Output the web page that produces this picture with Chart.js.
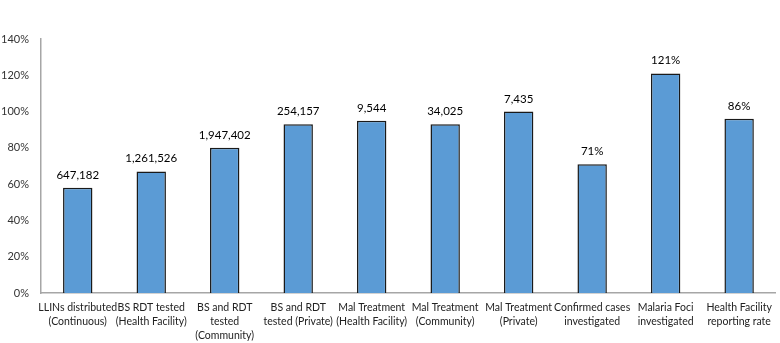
<!DOCTYPE html>
<html>
<head>
<meta charset="utf-8">
<script src="https://cdn.jsdelivr.net/npm/chart.js@4"></script>
<style>
html,body{margin:0;padding:0;background:#fff;}
#wrap{width:780px;height:343px;}
</style>
</head>
<body>
<div id="wrap"><canvas id="c" width="780" height="343"></canvas></div>
<script>
const categories = [
  ["LLINs distributed","(Continuous)"],
  ["BS RDT tested","(Health Facility)"],
  ["BS and RDT","tested","(Community)"],
  ["BS and RDT","tested (Private)"],
  ["Mal Treatment","(Health Facility)"],
  ["Mal Treatment","(Community)"],
  ["Mal Treatment","(Private)"],
  ["Confirmed cases","investigated"],
  ["Malaria Foci","investigated"],
  ["Health Facility","reporting rate"]
];
const percentValues = [58, 67, 80, 93, 95, 93, 100, 71, 121, 96];
const dataLabels = ["647,182","1,261,526","1,947,402","254,157","9,544","34,025","7,435","71%","121%","86%"];
const yTicks = [0, 20, 40, 60, 80, 100, 120, 140];

const FONT = "Lato, 'Open Sans', sans-serif";

const labelPlugin = {
  id: 'barLabels',
  afterDatasetsDraw(chart) {
    const ctx = chart.ctx;
    const meta = chart.getDatasetMeta(0);
    ctx.save();
    ctx.font = "11.5px " + FONT;
    ctx.fillStyle = "#000";
    ctx.textAlign = "center";
    ctx.textBaseline = "bottom";
    meta.data.forEach((bar, i) => {
      ctx.fillText(dataLabels[i], bar.x, bar.y - 7);
    });
    ctx.restore();
  }
};

new Chart(document.getElementById('c'), {
  type: 'bar',
  data: {
    labels: categories,
    datasets: [{
      data: percentValues,
      backgroundColor: '#5B9BD5',
      borderColor: '#1a1a1a',
      borderWidth: 1.5,
      borderSkipped: 'bottom',
      barPercentage: 0.4,
      categoryPercentage: 1.0
    }]
  },
  options: {
    responsive: false,
    animation: false,
    devicePixelRatio: 1,
    layout: { padding: { top: 39, right: 2, left: 0, bottom: 0 } },
    plugins: { legend: { display: false }, tooltip: { enabled: false } },
    scales: {
      x: {
        grid: { display: false, drawTicks: false },
        border: { display: true, color: '#a6a6a6', width: 1.5 },
        ticks: {
          color: '#222',
          font: { family: FONT, size: 10.5, lineHeight: 1.3 },
          maxRotation: 0, autoSkip: false, padding: 8
        },
        afterFit(scale) { scale.height = 50; }
      },
      y: {
        min: 0, max: 140,
        grid: { display: false, drawTicks: false },
        border: { display: true, color: '#a6a6a6', width: 1.5 },
        afterBuildTicks(scale) { scale.ticks = yTicks.map(v => ({ value: v })); },
        ticks: {
          color: '#333',
          font: { family: FONT, size: 11 },
          padding: 12,
          callback: v => v + '%'
        },
        afterFit(scale) { scale.width = 41; }
      }
    }
  },
  plugins: [labelPlugin]
});
</script>
</body>
</html>
